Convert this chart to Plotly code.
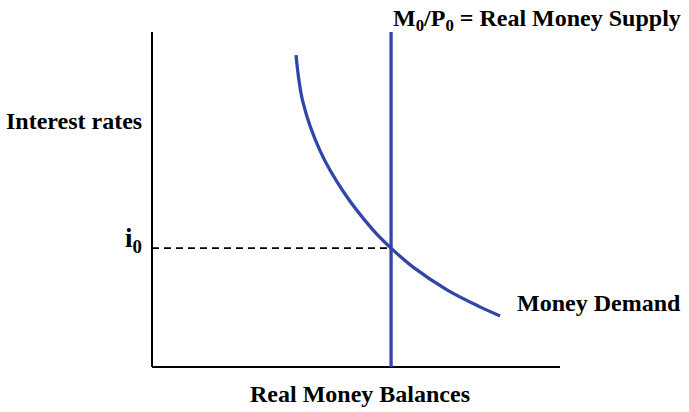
import plotly.graph_objects as go

# Money demand curve (real money balances, interest rate)
demand_x = [3.53, 3.70, 4.12, 4.68, 5.42, 5.86, 6.40, 7.23, 8.04, 8.53]
demand_y = [9.34, 7.93, 6.47, 5.27, 4.10, 3.56, 2.99, 2.31, 1.80, 1.53]

supply_x = 5.86          # M0/P0
i0 = 3.56                # equilibrium interest rate
y_top = 10.03            # top of the vertical axis
x_end = 10.0             # end of horizontal axis

BLUE = "#3246a8"
FONT = "Liberation Serif"

fig = go.Figure()

# axes
fig.add_trace(go.Scatter(x=[0, 0], y=[y_top, 0], mode="lines",
                         line=dict(color="black", width=2), hoverinfo="skip"))
fig.add_trace(go.Scatter(x=[0, x_end], y=[0, 0], mode="lines",
                         line=dict(color="black", width=2), hoverinfo="skip"))
# dashed i0 line
fig.add_trace(go.Scatter(x=[0, supply_x], y=[i0, i0], mode="lines",
                         line=dict(color="black", width=1.6, dash="7px,5px"),
                         hoverinfo="skip"))
# supply
fig.add_trace(go.Scatter(x=[supply_x, supply_x], y=[0, y_top], mode="lines",
                         line=dict(color=BLUE, width=3.3), hoverinfo="skip"))
# demand
fig.add_trace(go.Scatter(x=demand_x, y=demand_y, mode="lines",
                         line=dict(color=BLUE, width=3.3, shape="spline", smoothing=1.0),
                         hoverinfo="skip"))

font = dict(family=FONT, size=24, color="black")
ann = [
    dict(x=-0.2, y=(367 - 121) / 33.4, text="<b>Interest rates</b>",
         xanchor="right", yanchor="middle"),
    dict(x=-0.2, y=(367 - 240) / 33.4, text="<b>i<sub>0</sub></b>",
         xanchor="right", yanchor="middle", font=dict(family=FONT, size=27, color="black")),
    dict(x=supply_x, y=(367 - 20) / 33.4,
         text="<b>M<sub>0</sub>/P<sub>0</sub> = Real Money Supply</b>",
         xanchor="left", yanchor="middle"),
    dict(x=(515 - 152) / 40.8, y=(367 - 303) / 33.4, text="<b>Money Demand</b>",
         xanchor="left", yanchor="middle"),
    dict(x=(360 - 152) / 40.8, y=(367 - 394) / 33.4, text="<b>Real Money Balances</b>",
         xanchor="center", yanchor="middle"),
]
for a in ann:
    a.setdefault("font", font)
    a.update(showarrow=False, xref="x", yref="y")

fig.update_layout(
    width=689, height=412,
    margin=dict(l=0, r=0, t=0, b=0),
    paper_bgcolor="white", plot_bgcolor="white",
    showlegend=False,
    annotations=ann,
    xaxis=dict(range=[-152 / 40.8, (689 - 152) / 40.8], visible=False, fixedrange=True),
    yaxis=dict(range=[-45 / 33.4, 367 / 33.4], visible=False, fixedrange=True),
)

fig.write_html("out.html", config={"displayModeBar": False},
               post_script="document.body.style.margin='0px';document.body.style.overflow='hidden';")
